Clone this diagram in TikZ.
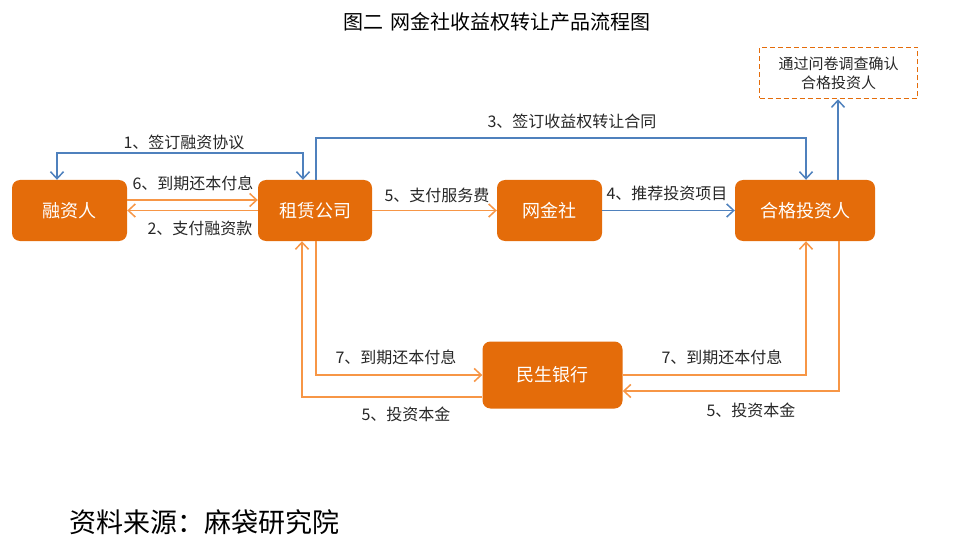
\documentclass[tikz,border=0pt]{standalone}
\usepackage{fontspec}
\setmainfont{Noto Sans CJK SC}
\usetikzlibrary{arrows.meta}
\definecolor{boxor}{HTML}{E46C0A}
\definecolor{lor}{HTML}{F79646}
\definecolor{blu}{HTML}{4F81BD}
\definecolor{txt}{HTML}{262626}
\begin{document}
\begin{tikzpicture}[x=1pt,y=-1pt,
  box/.style={fill=boxor, rounded corners=8pt, text=white, font=\fontsize{18}{20}\selectfont, inner sep=0pt},
  dbox/.style={draw=boxor, dashed, line width=1.5pt, dash pattern=on 5pt off 3pt, text=txt, align=center, font=\fontsize{15}{19}\selectfont, inner sep=0pt},
  barr/.style={draw=blu, line width=1.5pt, -{Straight Barb[length=7pt,width=13pt]}},
  oarr/.style={draw=lor, line width=1.5pt, -{Straight Barb[length=7pt,width=13pt]}},
  lbl/.style={text=txt, font=\fontsize{16}{18}\selectfont, inner sep=0pt}
]
\useasboundingbox (0,0) rectangle (965,553);

\node[text=black, font=\fontsize{20}{22}\selectfont] (title) at (497,22) {图二\hspace{0.4em}网金社收益权转让产品流程图};

\node[box, minimum width=115pt, minimum height=61pt] (rz) at (69.5,210.5) {融资人};
\node[box, minimum width=114pt, minimum height=61pt] (zl) at (315,210.5) {租赁公司};
\node[box, minimum width=105pt, minimum height=61pt] (wj) at (549.5,210.5) {网金社};
\node[box, minimum width=140pt, minimum height=61pt] (hg) at (805,210.5) {合格投资人};
\node[box, minimum width=140pt, minimum height=67pt] (ms) at (552.5,375) {民生银行};
\node[dbox, minimum width=158pt, minimum height=51pt] (dc) at (838.5,73) {通过问卷调查确认\\合格投资人};

% 1
\draw[barr, {Straight Barb[length=7pt,width=13pt]}-{Straight Barb[length=7pt,width=13pt]}]
  ([xshift=-12.5pt]rz.north) -- ++(0,-27) -| ([xshift=-12pt]zl.north);
% 3
\draw[barr] ([xshift=1pt]zl.north) -- ++(0,-42) -| ([xshift=1pt]hg.north);
% to dashed box
\draw[barr] ([xshift=33pt]hg.north) -- ([xshift=33pt]hg.north |- dc.south);
% 6 and 2
\draw[oarr] ([yshift=10.5pt]rz.east) -- ([yshift=10.5pt]zl.west);
\draw[oarr] (zl.west) -- (rz.east);
% 5 service
\draw[oarr] (zl.east) -- (wj.west);
% 4
\draw[barr] (wj.east) -- (hg.west);
% 7 left
\draw[oarr] ([xshift=1pt]zl.south) |- (ms.west);
% 5 left
\draw[oarr] ([yshift=-22pt]ms.west) -| ([xshift=-13pt]zl.south);
% 7 right
\draw[oarr] (ms.east) -| ([xshift=1pt]hg.south);
% 5 right
\draw[oarr] ([xshift=34pt]hg.south) |- ([yshift=-16pt]ms.east);

\node[lbl] (l1) at (184,142) {1、签订融资协议};
\node[lbl] (l6) at (193,183) {6、到期还本付息};
\node[lbl] (l2) at (200,228) {2、支付融资款};
\node[lbl] (l3) at (572,121) {3、签订收益权转让合同};
\node[lbl] (l5a) at (437,195) {5、支付服务费};
\node[lbl] (l4) at (667,193) {4、推荐投资项目};
\node[lbl] (l7a) at (396,357) {7、到期还本付息};
\node[lbl] (l5b) at (406,414) {5、投资本金};
\node[lbl] (l7b) at (722,357) {7、到期还本付息};
\node[lbl] (l5c) at (751,410) {5、投资本金};

\node[text=black, font=\fontsize{27}{30}\selectfont, anchor=west, inner sep=0pt] (src) at (69,522) {资料来源：麻袋研究院};
\end{tikzpicture}
\end{document}
